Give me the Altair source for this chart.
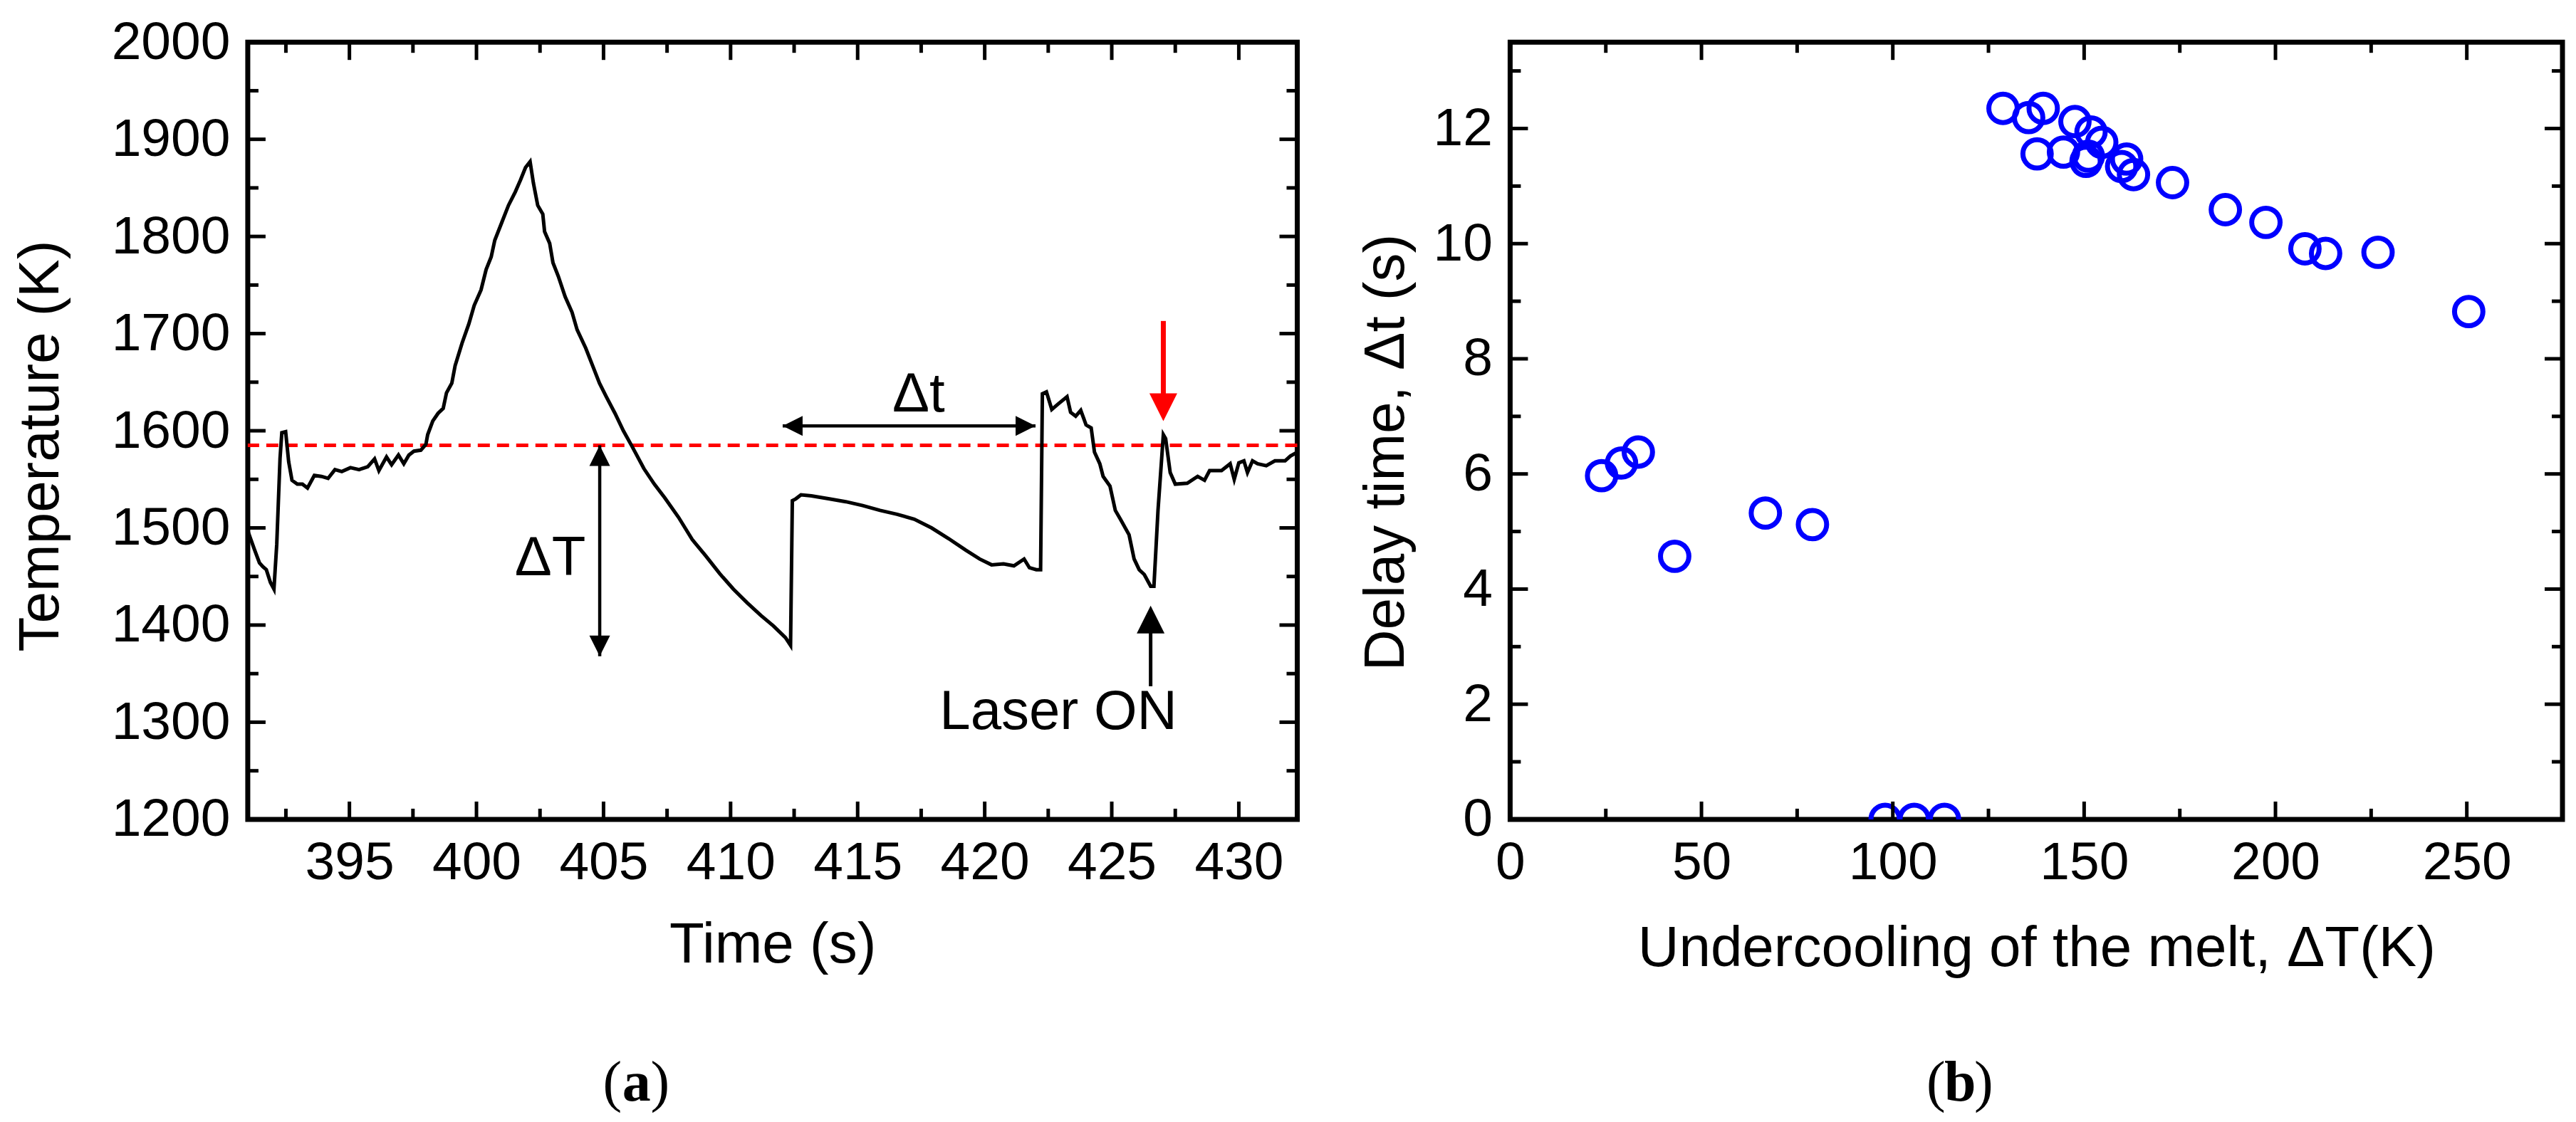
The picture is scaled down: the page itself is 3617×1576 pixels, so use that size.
import altair as alt
import pandas as pd

FONT = "Liberation Sans"
SERIF = "Liberation Serif"

# ---------------- data: panel (a) temperature-time profile ----------------
time_s = [391.0, 391.26, 391.46, 391.6, 391.73, 391.89, 392.03, 392.14, 392.27, 392.34,
          392.49, 392.61, 392.74, 392.95, 393.15, 393.35, 393.62, 393.9, 394.16, 394.43,
          394.7, 395.04, 395.38, 395.72, 395.99, 396.16, 396.46, 396.66, 396.93, 397.14,
          397.34, 397.54, 397.81, 398.01, 398.08, 398.28, 398.49, 398.69, 398.82, 399.03,
          399.16, 399.43, 399.7, 399.91, 400.18, 400.38, 400.58, 400.72, 400.99, 401.26,
          401.53, 401.73, 401.93, 402.11, 402.24, 402.41, 402.61, 402.68, 402.88, 403.01,
          403.22, 403.49, 403.76, 403.96, 404.3, 404.57, 404.84, 405.11, 405.45, 405.78,
          406.12, 406.59, 407.0, 407.41, 407.95, 408.49, 409.03, 409.57, 410.11, 410.65,
          411.19, 411.69, 412.16, 412.36, 412.43, 412.57, 412.77, 413.18, 413.85, 414.53,
          415.2, 415.88, 416.55, 417.23, 417.91, 418.58, 419.26, 419.8, 420.27, 420.74,
          421.15, 421.55, 421.76, 422.03, 422.2, 422.27, 422.43, 422.64, 422.91, 423.24,
          423.38, 423.58, 423.78, 423.99, 424.19, 424.32, 424.53, 424.66, 424.93, 425.14,
          425.34, 425.68, 425.88, 426.08, 426.28, 426.53, 426.66, 426.82, 427.03, 427.12,
          427.3, 427.5, 427.97, 428.38, 428.65, 428.85, 429.32, 429.66, 429.82, 430.0,
          430.2, 430.34, 430.54, 430.74, 431.08, 431.42, 431.82, 432.03, 432.3]
temperature_K = [1497, 1478, 1464, 1460, 1457, 1444, 1437, 1483, 1572, 1598,
                 1599, 1568, 1549, 1545, 1545, 1541, 1554, 1553, 1551, 1560,
                 1558, 1562, 1560, 1563, 1571, 1559, 1573, 1565, 1575, 1566,
                 1575, 1579, 1580, 1586, 1596, 1610, 1618, 1623, 1639, 1649,
                 1667, 1690, 1710, 1729, 1745, 1766, 1779, 1796, 1814, 1832,
                 1846, 1858, 1871, 1877, 1855, 1832, 1823, 1805, 1793, 1773,
                 1759, 1738, 1722, 1704, 1685, 1667, 1649, 1635, 1618, 1600,
                 1584, 1561, 1545, 1531, 1511, 1488, 1471, 1453, 1437, 1423,
                 1410, 1399, 1387, 1379, 1528, 1530, 1534, 1533, 1530, 1527,
                 1523, 1518, 1514, 1509, 1500, 1489, 1477, 1468, 1462, 1463,
                 1461, 1468, 1459, 1457, 1457, 1638, 1640, 1622, 1628, 1635,
                 1619, 1615, 1621, 1606, 1603, 1578, 1566, 1553, 1543, 1518,
                 1509, 1493, 1468, 1457, 1452, 1440, 1440, 1518, 1596, 1592,
                 1557, 1545, 1546, 1553, 1549, 1559, 1559, 1566, 1550, 1567,
                 1569, 1557, 1569, 1566, 1564, 1569, 1569, 1574, 1578]

melt_temperature_K = [1585]

# annotation arrows, in data coordinates
dT_arrow_t = [404.85]
dT_arrow_T = [1585, 1368]          # top tip, bottom tip
dt_arrow_T = [1605]
dt_arrow_t = [412.05, 422.0]       # left tip, right tip
laser_arrow_t = [426.53]
laser_arrow_T = [1337, 1420]       # tail, tip
red_arrow_t = [427.03]
red_arrow_T = [1713, 1610]         # tail, tip

label_text = ["\u0394T", "\u0394t", "Laser ON"]
label_t = [402.9, 417.4, 422.9]
label_T = [1468, 1637, 1310]

# ---------------- data: panel (b) delay time vs undercooling ----------------
undercooling_K = [23.9, 29.1, 33.5, 43.0, 66.7, 79.0, 98.0, 105.6, 113.5, 128.8,
                  135.5, 139.3, 137.7, 144.6, 147.6, 151.8, 154.6, 150.5, 151.1, 159.8,
                  161.1, 162.9, 173.1, 186.9, 197.5, 207.7, 213.1, 226.8, 250.5]
delay_time_s = [5.97, 6.19, 6.38, 4.57, 5.32, 5.12, 0.0, 0.0, 0.0, 12.35,
                12.19, 12.35, 11.56, 11.59, 12.12, 11.94, 11.76, 11.43, 11.52, 11.34,
                11.47, 11.20, 11.06, 10.59, 10.37, 9.91, 9.83, 9.85, 8.82]

# ---------------- tick values ----------------
a_x_major = [395, 400, 405, 410, 415, 420, 425, 430]
a_x_minor = [392.5, 397.5, 402.5, 407.5, 412.5, 417.5, 422.5, 427.5]
a_y_major = [1200, 1300, 1400, 1500, 1600, 1700, 1800, 1900, 2000]
a_y_minor = [1250, 1350, 1450, 1550, 1650, 1750, 1850, 1950]
b_x_major = [0, 50, 100, 150, 200, 250]
b_x_minor = [25, 75, 125, 175, 225]
b_y_major = [0, 2, 4, 6, 8, 10, 12]
b_y_minor = [1, 3, 5, 7, 9, 11, 13]

# ---------------- layout / style ----------------
WA, WB, H = 1474, 1478, 1092
MAJOR, MINOR, TICKW = 25, 15, 5

xs_a = alt.Scale(domain=[391, 432.3], nice=False, zero=False)
ys_a = alt.Scale(domain=[1200, 2000], nice=False, zero=False)
xs_b = alt.Scale(domain=[0, 275], nice=False, zero=False)
ys_b = alt.Scale(domain=[0, 13.5], nice=False, zero=False)

common_axis = dict(labelFlush=False, labelOverlap=False, labelLimit=600, format="d")
ax_a_x = alt.Axis(values=a_x_major, title="Time (s)", titleY=138, **common_axis)
ax_a_y = alt.Axis(values=a_y_major, title="Temperature (K)", titleX=-249, titleY=567, **common_axis)
ax_b_x = alt.Axis(values=b_x_major, title="Undercooling of the melt, \u0394T(K)", titleY=143, **common_axis)
ax_b_y = alt.Axis(values=b_y_major, title="Delay time, \u0394t (s)", titleX=-133, titleY=576, **common_axis)


def XA(f):
    return alt.X(f, scale=xs_a, axis=ax_a_x)


def YA(f):
    return alt.Y(f, scale=ys_a, axis=ax_a_y)


UP = "M0,0L0.5,1L-0.5,1Z"
DOWN = "M0,0L0.5,-1L-0.5,-1Z"
LEFT = "M0,0L1,-0.5L1,0.5Z"
RIGHT = "M0,0L-1,-0.5L-1,0.5Z"


def head_size(px):
    return (2 * px) ** 2


def inward_ticks(xs, ys, axx, axy, x_major, x_minor, y_major, y_minor, W):
    layers = []
    for vals, L in ((x_major, MAJOR), (x_minor, MINOR)):
        base = alt.Chart(pd.DataFrame({"v": vals})).mark_rule(color="black", strokeWidth=TICKW)
        xe = alt.X("v:Q", scale=xs, axis=axx)
        layers.append(base.encode(x=xe, y=alt.value(H), y2=alt.value(H - L)))
        layers.append(base.encode(x=xe, y=alt.value(0), y2=alt.value(L)))
    for vals, L in ((y_major, MAJOR), (y_minor, MINOR)):
        base = alt.Chart(pd.DataFrame({"v": vals})).mark_rule(color="black", strokeWidth=TICKW)
        ye = alt.Y("v:Q", scale=ys, axis=axy)
        layers.append(base.encode(y=ye, x=alt.value(0), x2=alt.value(L)))
        layers.append(base.encode(y=ye, x=alt.value(W), x2=alt.value(W - L)))
    return layers


def caption(letter, cx):
    df = pd.DataFrame({"k": [0]})
    common = dict(font=SERIF, fontSize=80, baseline="alphabetic", align="center", color="black")
    ys = alt.value(H + 395)
    return [
        alt.Chart(df).mark_text(text="(", dx=-34, **common).encode(x=alt.value(cx), y=ys),
        alt.Chart(df).mark_text(text=letter, fontWeight="bold", **common).encode(x=alt.value(cx), y=ys),
        alt.Chart(df).mark_text(text=")", dx=33, **common).encode(x=alt.value(cx), y=ys),
    ]


def head(t, T, shape, px, color="black"):
    df = pd.DataFrame({"t": [t], "T": [T]})
    return alt.Chart(df).mark_point(shape=shape, filled=True, size=head_size(px), color=color,
                                    opacity=1, strokeWidth=0).encode(x=XA("t:Q"), y=YA("T:Q"))


# ---------------- panel (a) ----------------
df_curve = pd.DataFrame({"t": time_s, "T": temperature_K, "i": list(range(len(time_s)))})
curve = alt.Chart(df_curve).mark_line(color="black", strokeWidth=5, clip=True).encode(
    x=XA("t:Q"), y=YA("T:Q"), order="i:Q")

melt = alt.Chart(pd.DataFrame({"T": melt_temperature_K})).mark_rule(
    color="#FF0000", strokeWidth=5, strokeDash=[17, 10]).encode(y=YA("T:Q"))

dT_shaft = alt.Chart(pd.DataFrame({"t": dT_arrow_t, "T1": [dT_arrow_T[0]], "T2": [dT_arrow_T[1]]})).mark_rule(
    color="black", strokeWidth=4.5).encode(x=XA("t:Q"), y=YA("T1:Q"), y2="T2:Q")
dt_shaft = alt.Chart(pd.DataFrame({"t1": [dt_arrow_t[0]], "t2": [dt_arrow_t[1]], "T": dt_arrow_T})).mark_rule(
    color="black", strokeWidth=4.5).encode(x=XA("t1:Q"), x2="t2:Q", y=YA("T:Q"))
laser_shaft = alt.Chart(pd.DataFrame({"t": laser_arrow_t, "T1": [laser_arrow_T[0]], "T2": [laser_arrow_T[1] - 15]})).mark_rule(
    color="black", strokeWidth=5).encode(x=XA("t:Q"), y=YA("T1:Q"), y2="T2:Q")
red_shaft = alt.Chart(pd.DataFrame({"t": red_arrow_t, "T1": [red_arrow_T[0]], "T2": [red_arrow_T[1] + 15]})).mark_rule(
    color="#FF0000", strokeWidth=7).encode(x=XA("t:Q"), y=YA("T1:Q"), y2="T2:Q")

heads = [
    head(dT_arrow_t[0], dT_arrow_T[0], UP, 29),
    head(dT_arrow_t[0], dT_arrow_T[1], DOWN, 29),
    head(dt_arrow_t[0], dt_arrow_T[0], LEFT, 28),
    head(dt_arrow_t[1], dt_arrow_T[0], RIGHT, 28),
    head(laser_arrow_t[0], laser_arrow_T[1], UP, 39),
    head(red_arrow_t[0], red_arrow_T[1], DOWN, 39, "#FF0000"),
]

labels = alt.Chart(pd.DataFrame({"t": label_t, "T": label_T, "s": label_text})).mark_text(
    font=FONT, fontSize=78, align="center", baseline="middle", color="black").encode(
    x=XA("t:Q"), y=YA("T:Q"), text="s:N")

panel_a = alt.layer(
    melt, curve, dT_shaft, dt_shaft, laser_shaft, red_shaft, *heads, labels,
    *inward_ticks(xs_a, ys_a, ax_a_x, ax_a_y, a_x_major, a_x_minor, a_y_major, a_y_minor, WA),
    *caption("a", 546),
).properties(width=WA, height=H)

# ---------------- panel (b) ----------------
df_pts = pd.DataFrame({"u": undercooling_K, "d": delay_time_s})
points = alt.Chart(df_pts).mark_point(shape="circle", filled=False, size=1590, strokeWidth=7,
                                      color="#0000FF", opacity=1, clip=True).encode(
    x=alt.X("u:Q", scale=xs_b, axis=ax_b_x),
    y=alt.Y("d:Q", scale=ys_b, axis=ax_b_y),
)

panel_b = alt.layer(
    points,
    *inward_ticks(xs_b, ys_b, ax_b_x, ax_b_y, b_x_major, b_x_minor, b_y_major, b_y_minor, WB),
    *caption("b", 632),
).properties(width=WB, height=H)

chart = alt.hconcat(panel_a, panel_b, spacing=299, bounds="flush").properties(
    padding={"left": 6, "top": 10, "right": 5, "bottom": 5}
).configure_view(
    stroke="black", strokeWidth=7
).configure_axis(
    labelFont=FONT, labelFontSize=75, labelColor="black", labelPadding=25,
    titleFont=FONT, titleFontSize=80, titleFontWeight="normal", titleColor="black",
    domain=False, ticks=False, tickSize=0, grid=False,
)

chart.save("out.html", embed_options={"renderer": "svg", "actions": False})
